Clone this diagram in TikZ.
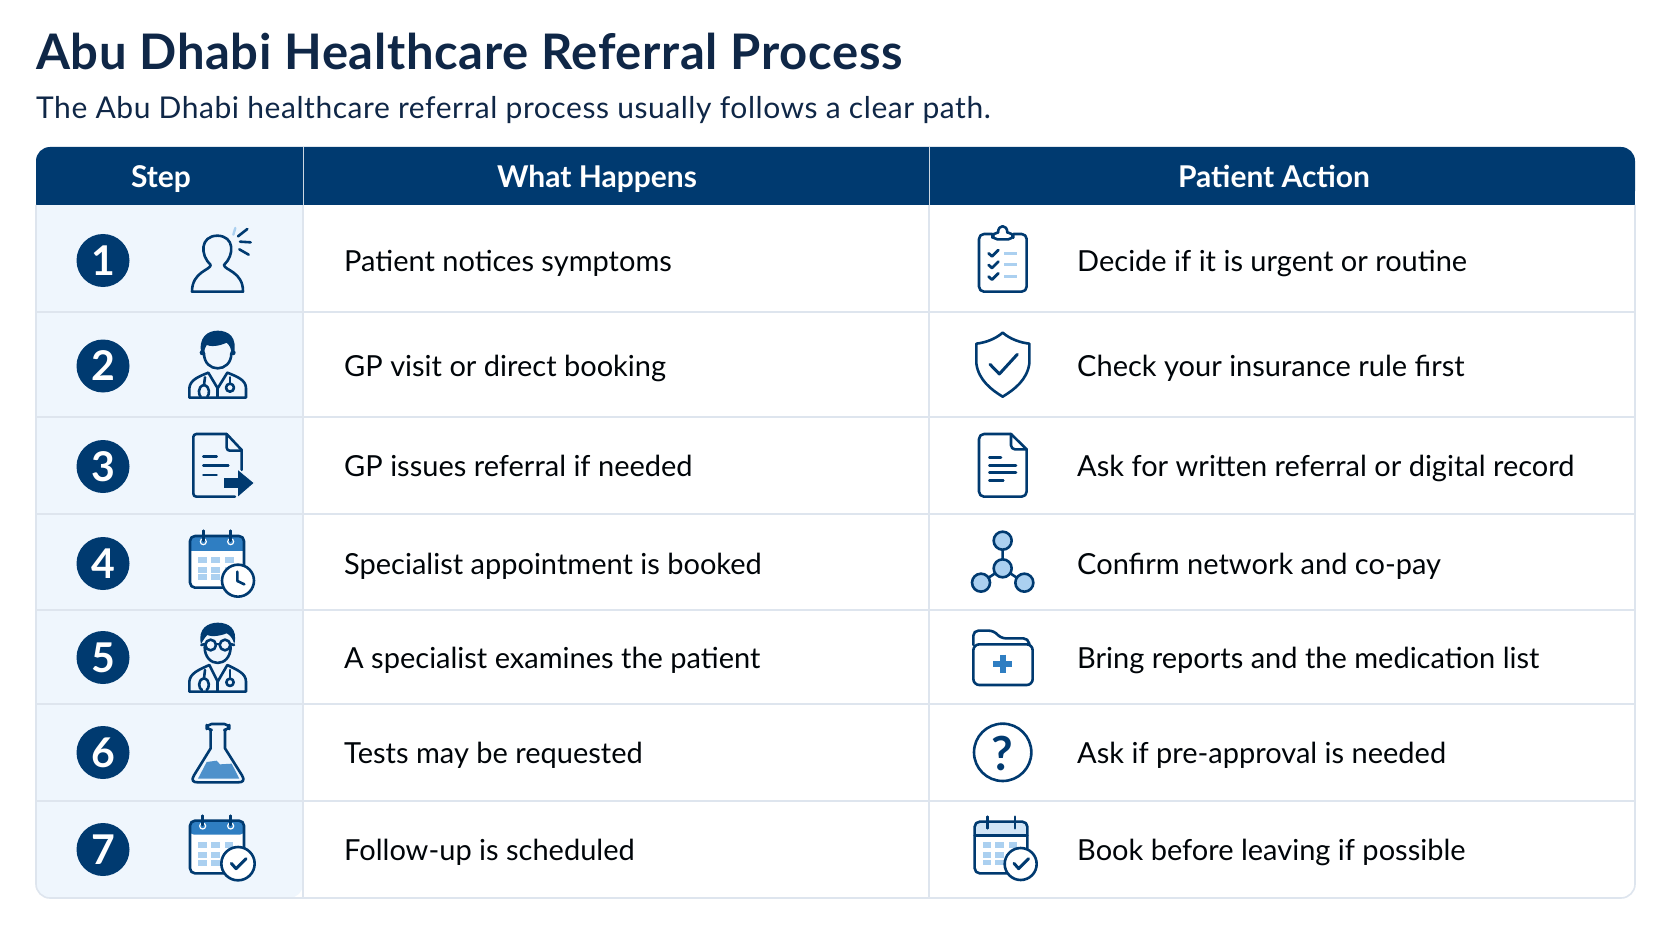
\documentclass[tikz,border=0pt]{standalone}
\usepackage{fontspec}
\setmainfont{Lato}
\definecolor{navy}{HTML}{003A70}
\definecolor{inkc}{HTML}{0F2747}
\definecolor{paleb}{HTML}{EFF6FD}
\definecolor{rule}{HTML}{DEE5EE}
\definecolor{lightb}{HTML}{ABD0F0}
\definecolor{midb}{HTML}{2F7EC2}
\tikzset{
  ic/.style={draw=navy,line width=2.6pt,line join=round,line cap=round},
  zoomed/.style={x=0.33333pt,y=-0.33333pt},
  celltext/.style={anchor=base west,inner sep=0pt,font=\fontsize{29}{32}\selectfont,text=black!92!navy},
  headtext/.style={anchor=base,inner sep=0pt,font=\fontsize{30}{32}\selectfont\bfseries,text=white},
  numdot/.style={circle,fill=navy,minimum size=53pt,inner sep=0pt,text=white,font=\fontsize{41}{41}\selectfont\bfseries},
  rowline/.style={draw=rule,line width=1.6pt},
}
\begin{document}
\begin{tikzpicture}[x=1pt,y=-1pt]
\useasboundingbox (0,0) rectangle (1672,941);
\fill[white] (0,0) rectangle (1672,941);
% title
\node[anchor=base west,inner sep=0pt,font=\fontsize{49}{50}\selectfont\bfseries\addfontfeature{LetterSpace=1.35},text=inkc] (title) at (36,70) {Abu Dhabi Healthcare Referral Process};
\node[anchor=base west,inner sep=0pt,font=\fontsize{30}{32}\selectfont\addfontfeature{LetterSpace=1.85},text=inkc] (subtitle) at (36,119) {The Abu Dhabi healthcare referral process usually follows a clear path.};
% table body
\fill[paleb,rounded corners=14pt] (36,190) -- (36,898) -- (303,898) -- (303,190) -- cycle;
\fill[paleb] (100,190) rectangle (303,880);
\fill[navy,rounded corners=14pt] (36,205) -- (36,147) -- (1635,147) -- (1635,205) -- cycle;
\fill[navy] (36,190) rectangle (60,205);
\fill[navy] (1610,190) rectangle (1635,205);
\foreach \yy in {312,417,514,610,704,801}{\draw[rowline] (36,\yy) -- (1635,\yy);}
\draw[rowline] (303,205) -- (303,898);
\draw[rowline] (929,205) -- (929,898);
\draw[rowline,rounded corners=14pt] (36,205) -- (36,898) -- (1635,898) -- (1635,205);
\draw[draw=white,line width=1pt,opacity=.8] (303,147) -- (303,205);
\draw[draw=white,line width=1pt,opacity=.8] (929,147) -- (929,205);
% headers
\node[headtext] (hstep) at (161,188) {Step};
\node[headtext] (hwhat) at (597,188) {What Happens};
\node[headtext] (hact) at (1274,188) {Patient Action};
% numbers
\node[numdot] (n1) at (103,260.5) {1};
\node[numdot] (n2) at (103,366) {2};
\node[numdot] (n3) at (103,466.5) {3};
\node[numdot] (n4) at (103,563.5) {4};
\node[numdot] (n5) at (103,657.5) {5};
\node[numdot] (n6) at (103,752.5) {6};
\node[numdot] (n7) at (103,849.5) {7};
% texts
\node[celltext] (w1) at (344,271.5) {Patient notices symptoms};
\node[celltext] (w2) at (344,376.5) {GP visit or direct booking};
\node[celltext] (w3) at (344,476.5) {GP issues referral if needed};
\node[celltext] (w4) at (344,574.5) {Specialist appointment is booked};
\node[celltext] (w5) at (344,668.5) {A specialist examines the patient};
\node[celltext] (w6) at (344,763.5) {Tests may be requested};
\node[celltext] (w7) at (344,860.5) {Follow-up is scheduled};
\node[celltext] (a1) at (1077,271.5) {Decide if it is urgent or routine};
\node[celltext] (a2) at (1077,376.5) {Check your insurance rule first};
\node[celltext] (a3) at (1077,476.5) {Ask for written referral or digital record};
\node[celltext] (a4) at (1077,574.5) {Confirm network and co-pay};
\node[celltext] (a5) at (1077,668.5) {Bring reports and the medication list};
\node[celltext] (a6) at (1077,763.5) {Ask if pre-approval is needed};
\node[celltext] (a7) at (1077,860.5) {Book before leaving if possible};
% icon 1 person
\begin{scope}[shift={(0,130)},zoomed]
\draw[ic] (632,405) .. controls (600,375) and (600,318) .. (652,317)
  .. controls (704,318) and (704,375) .. (672,405)
  .. controls (672,420) and (730,425) .. (729,485) -- (576,485)
  .. controls (576,425) and (632,420) .. (632,405);
\draw[draw=lightb,line width=2.4pt,line cap=round] (706,294) -- (700,314);
\draw[ic] (714,319) -- (742,297);
\draw[ic] (720,335) -- (752,337);
\draw[ic] (718,358) -- (746,374);
\end{scope}
% icon 2 doctor
\begin{scope}[shift={(0,130)},zoomed]
\fill[navy] (605,675) .. controls (592,620) and (625,602) .. (653,602) .. controls (685,602) and (714,620) .. (701,675)
  -- (694,675) .. controls (695,655) and (688,645) .. (680,638) .. controls (655,650) and (630,650) .. (620,645) .. controls (614,655) and (612,665) .. (612,675) -- cycle;
\draw[ic] (612,670) .. controls (612,730) and (694,730) .. (694,670);
\fill[navy] (607,668) circle (8); \fill[navy] (699,668) circle (8);
\draw[ic] (568,803) -- (568,775) .. controls (570,750) and (595,740) .. (625,728)
     -- (653,775) -- (682,728) .. controls (712,740) and (738,750) .. (738,775) -- (738,803) -- cycle;
\draw[ic] (653,775) -- (653,803);
\draw[ic] (690,742) -- (690,760); \draw[ic] (690,773) circle (12);
\draw[ic] (615,742) -- (612,765) .. controls (590,770) and (597,798) .. (602,800);
\draw[ic] (612,765) .. controls (632,770) and (628,795) .. (622,800);
\end{scope}
% icon 3 doc arrow
\begin{scope}[shift={(0,420)},zoomed]
\draw[ic,rounded corners=3pt] (680,42) -- (580,42) -- (580,230) -- (705,230);
\draw[ic] (680,42) -- (725,90) -- (725,150);
\draw[ic,rounded corners=3pt] (680,42) -- (680,92) -- (725,92);
\draw[ic] (610,110) -- (650,110); \draw[ic] (610,137) -- (685,137); \draw[ic] (610,165) -- (650,165);
\fill[navy,draw=paleb,line width=1.2pt] (670,172) -- (712,172) -- (712,146) -- (764,189) -- (712,234) -- (712,206) -- (670,206) -- cycle;
\end{scope}
% icon 4 calendar clock
\begin{scope}[shift={(0,420)},zoomed]
\fill[white,rounded corners=4pt] (570,348) rectangle (732,503);
\fill[midb,rounded corners=4pt] (570,348) rectangle (732,392);
\fill[midb] (570,375) rectangle (732,392);
\foreach \cx in {594,632,674}{\foreach \cy in {410,440,462}{\fill[lightb] (\cx,\cy) rectangle ++(28,18);}}
\draw[ic,rounded corners=5pt] (570,348) rectangle (732,503);
\draw[draw=white,line width=1.2pt] (610,365) circle (9); \draw[draw=white,line width=1.2pt] (692,365) circle (9);
\draw[ic] (610,332) -- (610,362); \draw[ic] (692,332) -- (692,362);
\draw[ic,fill=white] (714,482) circle (48);
\draw[ic] (712,455) -- (712,483) -- (733,493);
\end{scope}
% icon 5 doctor glasses
\begin{scope}[shift={(0,420)},zoomed]
\fill[navy] (603,672) .. controls (592,625) and (625,608) .. (653,608) .. controls (685,608) and (714,625) .. (703,672)
  .. controls (698,655) and (690,645) .. (680,640) .. controls (655,650) and (630,650) .. (622,645) .. controls (612,655) and (608,665) .. (603,672) -- cycle;
\draw[ic] (614,680) .. controls (614,745) and (692,745) .. (692,680);
\draw[ic] (632,675) circle (16); \draw[ic] (675,675) circle (16);
\draw[ic] (648,672) -- (659,672);
\draw[ic] (616,672) -- (604,675); \draw[ic] (691,672) -- (702,675);
\draw[ic] (568,815) -- (568,785) .. controls (570,760) and (595,750) .. (628,735)
     -- (653,785) -- (682,735) .. controls (712,750) and (738,760) .. (738,785) -- (738,815) -- cycle;
\draw[ic] (653,785) -- (653,815);
\draw[ic] (690,750) -- (690,775); \draw[ic] (690,787) circle (11);
\draw[ic] (615,750) -- (612,775) .. controls (590,780) and (597,808) .. (606,810);
\draw[ic] (612,775) .. controls (632,780) and (628,805) .. (620,810);
\end{scope}
% icon 6 flask
\begin{scope}[shift={(150,690)},zoomed]
\fill[midb!85] (170,216) -- (200,212) -- (210,223) -- (245,221) -- (268,266) -- (144,266) -- cycle;
\draw[ic] (182,120) -- (182,175) -- (132,256) .. controls (122,272) and (130,277) .. (144,277) -- (264,277) .. controls (278,277) and (286,272) .. (276,256) -- (225,175) -- (225,120);
\draw[ic,rounded corners=5pt] (180,120) -- (170,120) -- (170,102) -- (238,102) -- (238,120) -- (228,120);
\end{scope}
% icon 7 calendar check
\begin{scope}[shift={(150,690)},zoomed]
\fill[white,rounded corners=4pt] (120,392) rectangle (282,550);
\fill[midb,rounded corners=4pt] (120,392) rectangle (282,434);
\foreach \cx in {145,183,224}{\foreach \cy in {455,485,510}{\fill[lightb] (\cx,\cy) rectangle ++(26,18);}}
\draw[ic,rounded corners=5pt] (120,392) rectangle (282,550);
\draw[draw=white,line width=1.2pt] (158,408) circle (9); \draw[draw=white,line width=1.2pt] (242,408) circle (9);
\draw[ic] (158,377) -- (158,405); \draw[ic] (242,377) -- (242,405);
\draw[ic,fill=white] (264,521) circle (50);
\draw[draw=navy,line width=3pt,line cap=round,line join=round] (244,520) -- (258,536) -- (288,506);
\end{scope}
% right icons first group
\begin{scope}[shift={(930,210)},zoomed]
\draw[ic,rounded corners=5pt] (187,72) -- (147,72) -- (147,245) -- (290,245) -- (290,72) -- (250,72);
\draw[ic,rounded corners=5pt] (204,68) -- (187,68) -- (187,88) -- (250,88) -- (250,68) -- (232,68);
\draw[ic] (204,68) .. controls (204,42) and (232,42) .. (232,68);
\foreach \cy in {130,165,200}{
  \draw[draw=navy,line width=2.8pt,line cap=round,line join=round] (176,\cy) -- (186,\cy+9) -- (205,\cy-10);
  \draw[draw=lightb,line width=3pt] (222,\cy) -- (262,\cy);}
% shield
\draw[ic] (218,368) .. controls (195,388) and (165,398) .. (139,401) -- (139,460)
  .. controls (145,510) and (185,540) .. (218,560) .. controls (251,540) and (292,510) .. (298,460)
  -- (298,401) .. controls (272,398) and (241,388) .. (218,368) -- cycle;
\draw[draw=navy,line width=3pt,line cap=round,line join=round] (180,463) -- (208,492) -- (262,433);
% doc
\draw[ic,rounded corners=5pt] (243,672) -- (147,672) -- (147,860) -- (290,860) -- (290,718);
\draw[ic] (243,672) -- (290,718);
\draw[ic,rounded corners=4pt] (243,672) -- (243,718) -- (290,718);
\draw[ic] (178,743) -- (213,743); \draw[ic] (178,767) -- (258,767); \draw[ic] (178,788) -- (258,788); \draw[ic] (178,812) -- (220,812);
\end{scope}
% right icons second group
\begin{scope}[shift={(930,510)},zoomed]
\draw[ic] (218,92) -- (218,175) -- (153,218); \draw[ic] (218,175) -- (283,218);
\foreach \cx/\cy in {218/92,218/175,153/218,283/218}{\draw[ic,fill=lightb] (\cx,\cy) circle (27);}
% folder
\draw[ic,rounded corners=5pt] (130,405) -- (130,362) -- (192,362) -- (212,385) -- (295,385) -- (298,403);
\draw[ic,rounded corners=6pt] (130,403) rectangle (308,525);
\draw[draw=midb,line width=6pt] (218,434) -- (218,490); \draw[draw=midb,line width=6pt] (190,462) -- (247,462);
% question
\draw[ic] (218,727) circle (86);
\node[inner sep=0pt,text=navy,font=\fontsize{47}{48}\selectfont\bfseries] (qmark) at (218,729) {?};
% calendar check
\fill[white,rounded corners=4pt] (134,935) rectangle (292,1090);
\fill[lightb!55,rounded corners=4pt] (134,935) rectangle (292,975);
\foreach \cx in {158,195,236}{\foreach \cy in {997,1027,1050}{\fill[lightb] (\cx,\cy) rectangle ++(26,16);}}
\draw[ic,rounded corners=5pt] (134,935) rectangle (292,1090);
\draw[ic] (134,977) -- (292,977);
\draw[ic] (172,920) -- (172,955); \draw[ic] (255,920) -- (255,955);
\draw[ic,fill=white] (272,1062) circle (48);
\draw[draw=navy,line width=3pt,line cap=round,line join=round] (252,1060) -- (266,1076) -- (296,1046);
\end{scope}
\end{tikzpicture}
\end{document}
